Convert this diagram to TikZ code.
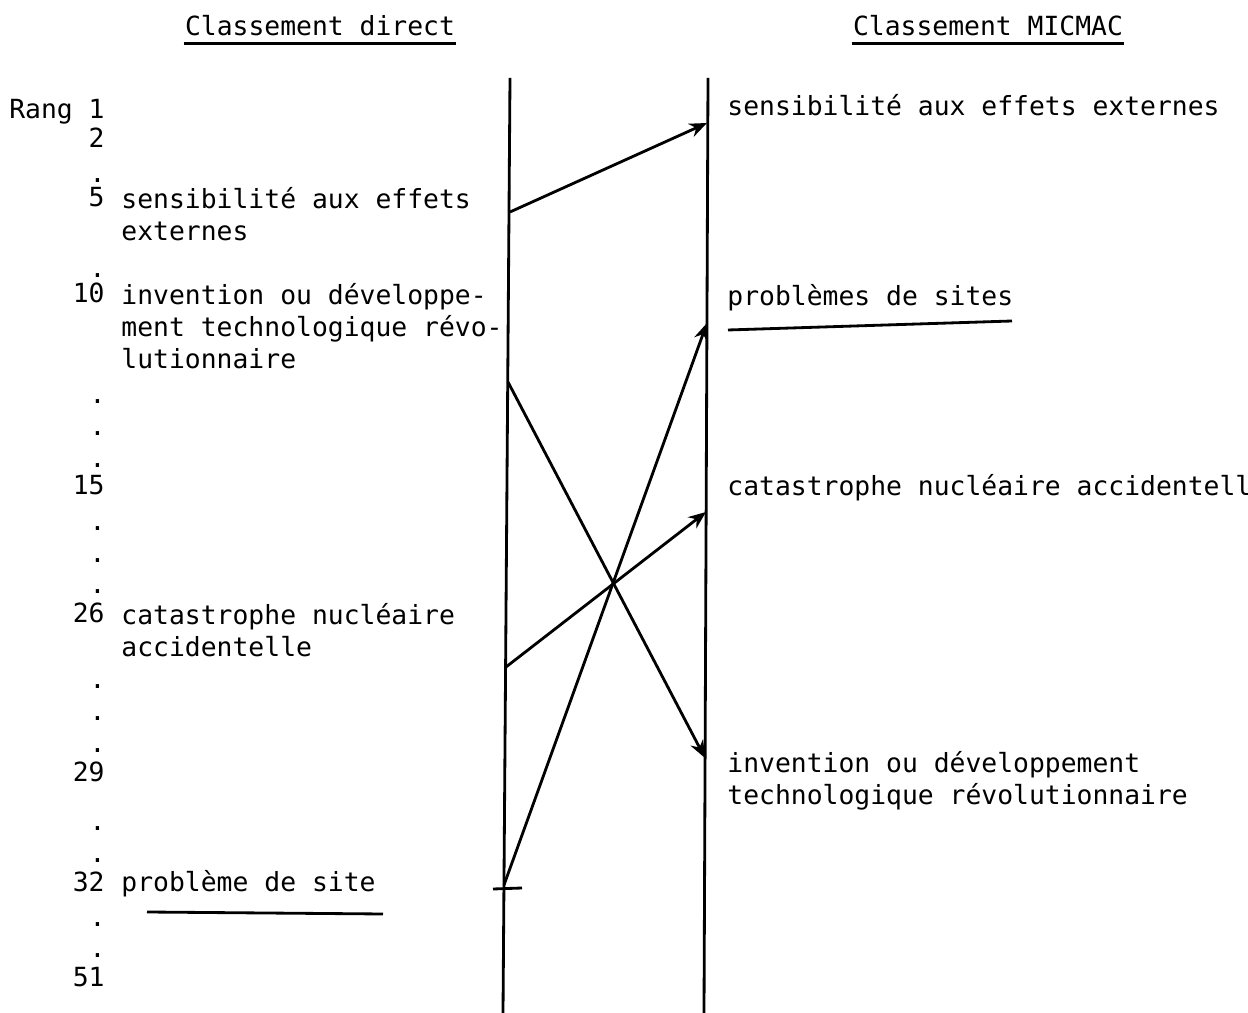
\documentclass[tikz,border=0pt]{standalone}
\usepackage{fontspec}
\setmonofont{DejaVu Sans Mono}
\usetikzlibrary{arrows.meta,positioning}

\newcommand{\typesize}{\fontsize{7.5}{9.1}\selectfont}

\begin{document}
\begin{tikzpicture}[x=0.01cm,y=-0.01cm,>={Stealth[length=5pt,width=4pt]},thick,
    rank node/.style={anchor=base east,inner sep=0pt,font=\ttfamily\typesize},
    text node/.style={anchor=base west,inner sep=0pt,align=left,font=\ttfamily\typesize},
    head node/.style={anchor=base,inner sep=0pt,font=\ttfamily\typesize}]

    \useasboundingbox (0,0) rectangle (1248,1013);

    % titles
    \node[head node] (h1) at (320,36) {Classement direct};
    \node[head node] (h2) at (988,36) {Classement MICMAC};
    \draw ([yshift=-1.6pt]h1.south west) -- ([yshift=-1.6pt]h1.south east);
    \draw ([yshift=-1.6pt]h2.south west) -- ([yshift=-1.6pt]h2.south east);

    % ranks
    \node[rank node] (r1) at (106,119) {Rang 1};
    \node[rank node] (r2) at (106,148) {2};
    \node[rank node] (r5) at (106,207) {5};
    \node[rank node] (r10) at (106,303) {10};
    \node[rank node] (r15) at (106,495) {15};
    \node[rank node] (r26) at (106,623) {26};
    \node[rank node] (r29) at (106,782) {29};
    \node[rank node] (r32) at (106,892) {32};
    \node[rank node] (r51) at (106,987) {51};
    \foreach \y in {183,278,404,436,468,531,563,594,689,721,753,831,863,926,958}
        \node[rank node] (d\y) at (107,\y) {.};

    % direct ranking
    \node[text node] (t5) [right=4pt of r5.north east, anchor=north west] {sensibilité aux effets\\externes};
    \node[text node] (t10) [right=4pt of r10.north east, anchor=north west] {invention ou développe-\\ment technologique révo-\\lutionnaire};
    \node[text node] (t26) [right=4pt of r26.north east, anchor=north west] {catastrophe nucléaire\\accidentelle};
    \node[text node] (t32) [right=4pt of r32.base east, anchor=base west] {problème de site};
    \draw (147,912) -- (383,914);

    % MICMAC ranking
    \node[text node] (m1) at (726,116) {sensibilité aux effets externes};
    \node[text node] (m2) at (726,306) {problèmes de sites};
    \node[text node] (m3) at (726,496) {catastrophe nucléaire accidentell};
    \node[text node] (m4) at (726,805) {invention ou développement\\technologique révolutionnaire};
    \draw (728,330) -- (1012,321);

    % axes
    \coordinate (lt) at (510,78);
    \coordinate (lb) at (503,1013);
    \coordinate (rt) at (708,78);
    \coordinate (rb) at (704,1013);
    \draw (lt) -- (lb);
    \draw (rt) -- (rb);

    \coordinate (a5) at (510,212);
    \coordinate (a10) at (508,382);
    \coordinate (a26) at (506,667);
    \coordinate (a32) at (504,885);
    \coordinate (b1) at (707,123);
    \coordinate (b2) at (707,323);
    \coordinate (b3) at (706,512);
    \coordinate (b4) at (705,758);
    \coordinate (k1) at (493,889);
    \coordinate (k2) at (522,888);

    \path[->]
        (a5) edge (b1)
        (a10) edge (b4)
        (a26) edge (b3)
        (a32) edge (b2)
        ;
    \draw (k1) -- (k2);
\end{tikzpicture}
\end{document}
